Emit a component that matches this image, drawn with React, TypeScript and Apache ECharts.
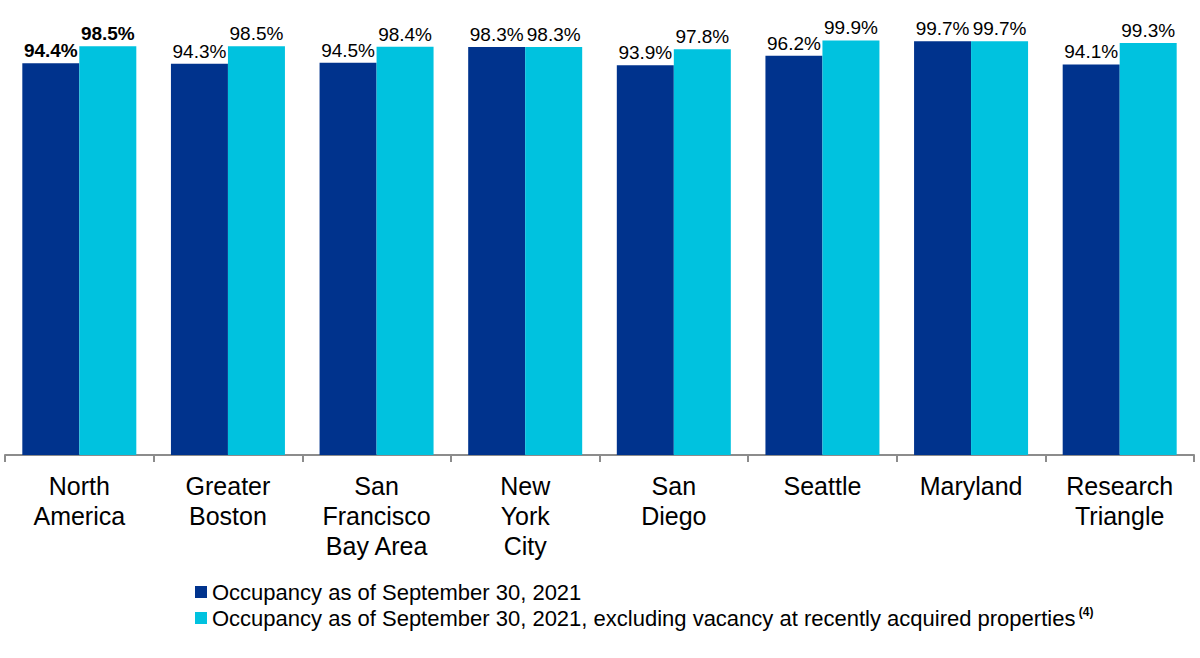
import React, { useEffect, useRef } from "react";
import * as echarts from "echarts";

const categories = [
  "North\nAmerica",
  "Greater\nBoston",
  "San\nFrancisco\nBay Area",
  "New\nYork\nCity",
  "San\nDiego",
  "Seattle",
  "Maryland",
  "Research\nTriangle",
];
const occupancy = [94.4, 94.3, 94.5, 98.3, 93.9, 96.2, 99.7, 94.1];
const occupancyExcl = [98.5, 98.5, 98.4, 98.3, 97.8, 99.9, 99.7, 99.3];
const seriesNames = [
  "Occupancy as of September 30, 2021",
  "Occupancy as of September 30, 2021, excluding vacancy at recently acquired properties",
];

const FONT = 'Arial, "Liberation Sans", sans-serif';
const NAVY = "#00338D";
const CYAN = "#00C2DF";

function toData(values: number[]) {
  return values.map((v, i) =>
    i === 0 ? { value: v, label: { fontWeight: "bold" as const } } : { value: v }
  );
}

export default function App() {
  const ref = useRef<HTMLDivElement>(null);
  useEffect(() => {
    if (!ref.current) return;
    const chart = echarts.init(ref.current, null, { renderer: "svg" });
    const label = {
      show: true,
      position: "top" as const,
      distance: 3,
      fontSize: 19,
      fontFamily: FONT,
      color: "#000",
      formatter: (p: any) => Number(p.value).toFixed(1) + "%",
    };
    chart.setOption({
      animation: false,
      backgroundColor: "#fff",
      grid: { left: 5, right: 6, top: 40, bottom: 203, containLabel: false },
      legend: {
        orient: "vertical",
        left: 190,
        top: 576,
        itemWidth: 12,
        itemHeight: 12,
        itemGap: 3,
        icon: "rect",
        data: seriesNames,
        formatter: (name: string) =>
          name === seriesNames[1] ? name + "{sup| (4)}" : name,
        textStyle: {
          fontSize: 22,
          fontFamily: FONT,
          color: "#000",
          rich: {
            sup: {
              fontSize: 12,
              fontWeight: "bold",
              fontFamily: FONT,
              color: "#000",
              verticalAlign: "top",
              padding: [0, 0, 12, 0],
            },
          },
        },
      },
      xAxis: {
        type: "category",
        data: categories,
        axisLine: { lineStyle: { color: "#8C8C8C", width: 2 } },
        axisTick: { show: true, length: 7, lineStyle: { color: "#8C8C8C", width: 2 } },
        axisLabel: {
          fontSize: 25,
          lineHeight: 30,
          fontFamily: FONT,
          color: "#000",
          margin: 16,
          interval: 0,
        },
      },
      yAxis: {
        type: "value",
        min: 0,
        max: 100,
        show: false,
        splitLine: { show: false },
      },
      series: [
        {
          name: seriesNames[0],
          type: "bar",
          data: toData(occupancy),
          barWidth: 57,
          barGap: "0%",
          itemStyle: { color: NAVY },
          label,
        },
        {
          name: seriesNames[1],
          type: "bar",
          data: toData(occupancyExcl),
          barWidth: 57,
          barGap: "0%",
          itemStyle: { color: CYAN },
          label,
        },
      ],
    });
    return () => chart.dispose();
  }, []);
  return (
    <div
      ref={ref}
      style={{ position: "absolute", left: 0, top: 0, width: 1200, height: 658 }}
    />
  );
}
